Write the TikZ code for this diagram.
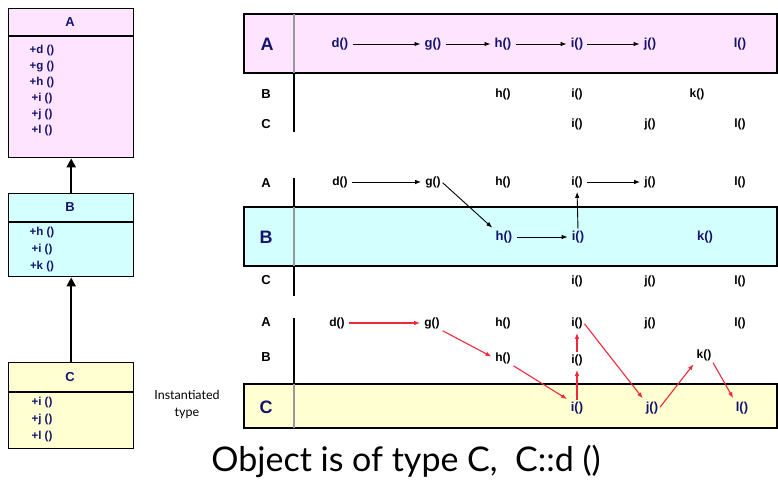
\documentclass[tikz,border=0pt]{standalone}
\usepackage{fontspec}
\setmainfont{Liberation Sans}
\newfontfamily\capfont{Lato}
\usetikzlibrary{arrows.meta}
\definecolor{navy}{RGB}{20,20,110}
\definecolor{pinkfill}{RGB}{255,228,255}
\definecolor{cyanfill}{RGB}{212,255,255}
\definecolor{yellowfill}{RGB}{255,255,210}
\definecolor{redarrow}{RGB}{240,40,60}
\begin{document}
\begin{tikzpicture}[x=1pt,y=-1pt,
  meth/.style={font=\bfseries\fontsize{12}{14}\selectfont, inner sep=1pt, text=black},
  bmeth/.style={font=\bfseries\fontsize{13}{15}\selectfont, inner sep=1pt, text=navy},
  rowlab/.style={font=\bfseries\fontsize{13}{15}\selectfont, inner sep=1pt},
  bandlab/.style={font=\bfseries\fontsize{18}{20}\selectfont, text=navy, inner sep=1pt},
  band/.style={draw=black, line width=1.6pt},
  vline/.style={line width=1.8pt, black},
  vlineband/.style={line width=1.8pt, gray!80},
  umlbox/.style={draw=black, line width=1.4pt, anchor=north west, minimum width=125pt, inner sep=0pt},
  umltitle/.style={font=\bfseries\fontsize{13}{15}\selectfont, text=navy},
  umlmeth/.style={font=\bfseries\fontsize{11.5}{16}\selectfont, text=navy, align=center, inner sep=0pt},
  inh/.style={line width=2pt, -{Triangle[length=9pt,width=9pt]}},
  call/.style={-{Latex[length=6pt,width=4.5pt]}, line width=0.9pt, shorten <=3pt, shorten >=3pt},
  rcall/.style={call, draw=redarrow, color=redarrow, line width=1.1pt},
  note/.style={font=\capfont\fontsize{12.5}{17}\selectfont, align=center},
  caption/.style={font=\capfont\fontsize{34}{36}\selectfont}
]
\useasboundingbox (0,0) rectangle (778,479);

% ---------- UML class boxes ----------
\node[umlbox, fill=pinkfill, minimum height=149pt] (Abox) at (8,8) {};
\draw[line width=1.4pt] (8,36) -- (133,36);
\node[umltitle] (Atitle) at (70,22) {A};
\node[umlmeth] (Ameth) at (42,91) {+d ()\\+g ()\\+h ()\\+i ()\\+j ()\\+l ()};

\node[umlbox, fill=cyanfill, minimum height=83pt] (Bbox) at (8,193) {};
\draw[line width=1.4pt] (8,222) -- (133,222);
\node[umltitle] (Btitle) at (70,207) {B};
\node[umlmeth, font=\bfseries\fontsize{11.5}{17}\selectfont] (Bmeth) at (42,250) {+h ()\\+i ()\\+k ()};

\node[umlbox, fill=yellowfill, minimum height=86pt] (Cbox) at (8,362) {};
\draw[line width=1.4pt] (8,392) -- (133,392);
\node[umltitle] (Ctitle) at (70,377) {C};
\node[umlmeth, font=\bfseries\fontsize{11.5}{17}\selectfont] (Cmeth) at (42,420) {+i ()\\+j ()\\+l ()};

\draw[inh] (Bbox.north) -- (Abox.south);
\draw[inh] (Cbox.north) -- (Bbox.south);

\node[note] (inst) at (187,404) {Instantiated\\type};

% ---------- Group 1: object of type A ----------
\draw[band, fill=pinkfill] (244,14) rectangle (777,73);
\draw[vlineband] (294,14) -- (294,73);
\draw[vline] (294,73) -- (294,132);
\node[bandlab] (gA) at (267,44) {A};
\node[bmeth] (d1) at (340,44) {d()};
\node[bmeth] (g1) at (433,44) {g()};
\node[bmeth] (h1) at (503,44) {h()};
\node[bmeth] (i1) at (577,44) {i()};
\node[bmeth] (j1) at (650,44) {j()};
\node[bmeth] (l1) at (740,44) {l()};
\node[rowlab] (gB1) at (266,94) {B};
\node[meth] (h1b) at (503,94) {h()};
\node[meth] (i1b) at (577,94) {i()};
\node[meth] (k1b) at (697,94) {k()};
\node[rowlab] (gC1) at (266,124) {C};
\node[meth] (i1c) at (577,124) {i()};
\node[meth] (j1c) at (650,124) {j()};
\node[meth] (l1c) at (740,124) {l()};
\draw[call] (d1) -- (g1);
\draw[call] (g1) -- (h1);
\draw[call] (h1) -- (i1);
\draw[call] (i1) -- (j1);

% ---------- Group 2: object of type B ----------
\draw[band, fill=cyanfill] (244,207) rectangle (777,266);
\draw[vline] (294,178) -- (294,207);
\draw[vlineband] (294,207) -- (294,266);
\draw[vline] (294,266) -- (294,296);
\node[rowlab] (gA2) at (266,183) {A};
\node[meth] (d2) at (340,182) {d()};
\node[meth] (g2) at (433,182) {g()};
\node[meth] (h2) at (503,182) {h()};
\node[meth] (i2) at (577,182) {i()};
\node[meth] (j2) at (650,182) {j()};
\node[meth] (l2) at (740,182) {l()};
\node[bandlab] (gB2) at (266,237) {B};
\node[bmeth] (h2b) at (504,237) {h()};
\node[bmeth] (i2b) at (578,237) {i()};
\node[bmeth] (k2b) at (705,237) {k()};
\node[rowlab] (gC2) at (266,280) {C};
\node[meth] (i2c) at (577,281) {i()};
\node[meth] (j2c) at (650,281) {j()};
\node[meth] (l2c) at (740,281) {l()};
\draw[call] (d2) -- (g2);
\draw[call, shorten <=1pt] (g2.east) -- (h2b.north west);
\draw[call] (h2b) -- (i2b);
\draw[call, shorten <=1pt] (i2b.north) -- (i2.south);
\draw[call] (i2) -- (j2);

% ---------- Group 3: object of type C ----------
\draw[band, fill=yellowfill] (244,384) rectangle (777,428);
\draw[vline] (294,318) -- (294,384);
\draw[vlineband] (294,384) -- (294,428);
\node[rowlab] (gA3) at (266,322) {A};
\node[meth] (d3) at (337,323) {d()};
\node[meth] (g3) at (432,323) {g()};
\node[meth] (h3) at (503,323) {h()};
\node[meth] (i3) at (577,323) {i()};
\node[meth] (j3) at (650,323) {j()};
\node[meth] (l3) at (740,323) {l()};
\node[rowlab] (gB3) at (266,357) {B};
\node[meth] (h3b) at (503,358) {h()};
\node[meth] (i3b) at (577,360) {i()};
\node[meth] (k3b) at (704,355) {k()};
\node[bandlab] (gC3) at (266,407) {C};
\node[bmeth] (i3c) at (577,408) {i()};
\node[bmeth] (j3c) at (652,408) {j()};
\node[bmeth] (l3c) at (742,408) {l()};
\draw[rcall] (d3) -- (g3);
\draw[rcall, shorten <=2pt] (g3.south east) -- (h3b.west);
\draw[rcall, shorten <=2pt] (h3b.south east) -- (i3c.north west);
\draw[rcall, shorten <=1pt] (i3c.north) -- (i3b.south);
\draw[rcall, shorten <=1pt] (i3b.north) -- (i3.south);
\draw[rcall, shorten <=1pt] (i3.east) -- (j3c.north west);
\draw[rcall, shorten <=1pt] (j3c.east) -- (k3b.south west);
\draw[rcall, shorten <=1pt] (k3b.south east) -- (l3c.north west);

% ---------- caption ----------
\node[caption] (cap) at (406,461) {Object is of type C,\ \ C::d ()};
\end{tikzpicture}
\end{document}
